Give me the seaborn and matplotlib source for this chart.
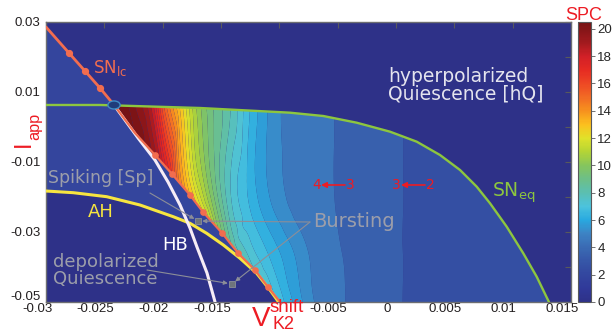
import numpy as np
import matplotlib
matplotlib.use("Agg")
import matplotlib.pyplot as plt
import seaborn as sns
from matplotlib.colors import LinearSegmentedColormap, Normalize
from matplotlib.patches import Polygon, Ellipse
from matplotlib.transforms import ScaledTranslation
from matplotlib.tri import Triangulation, UniformTriRefiner, CubicTriInterpolator
import matplotlib.cm as cm

# ---------------- data ----------------
# bifurcation curves in the (V_K2^shift, I_app) plane
snlc_upper_v = [-0.0300, -0.02803, -0.02666, -0.02537, -0.02417]
snlc_upper_i = [0.02857, 0.02114, 0.01600, 0.01114, 0.00629]
snlc_lower_v = [-0.02417, -0.02237, -0.02066, -0.01920, -0.01766, -0.01654,
                -0.01491, -0.01354, -0.01209, -0.01097, -0.00994]
snlc_lower_i = [0.00629, -0.00171, -0.00800, -0.01343, -0.01943, -0.02429,
                -0.03029, -0.03600, -0.04086, -0.04571, -0.05000]
hb_v = [-0.02417, -0.02211, -0.02066, -0.01954, -0.01851, -0.01766,
        -0.01706, -0.01620, -0.01551]
hb_i = [0.00629, -0.00314, -0.00943, -0.01571, -0.02229, -0.02886,
        -0.03429, -0.04171, -0.05000]
ah_v = [-0.0300, -0.02766, -0.02480, -0.02194, -0.01909, -0.01766,
        -0.01623, -0.01480, -0.01337, -0.01194, -0.01080, -0.01006]
ah_i = [-0.01829, -0.01877, -0.01991, -0.02229, -0.02563, -0.02751,
        -0.03037, -0.03371, -0.03751, -0.04180, -0.04657, -0.05000]
sneq_v = [-0.0300, -0.02537, -0.01680, -0.00909, -0.00623, -0.00337, -0.00051,
          0.00178, 0.00377, 0.00549, 0.00692, 0.00806, 0.00949, 0.01091,
          0.01206, 0.01311]
sneq_i = [0.00629, 0.00629, 0.00543, 0.00409, 0.00314, 0.00123, -0.00134,
          -0.00420, -0.00800, -0.01229, -0.01706, -0.02180, -0.02849, -0.03609,
          -0.04277, -0.05000]

# spikes-per-cycle (SPC) samples
spc_v = [-0.0245, -0.0225, -0.0210, -0.0198, -0.0185, -0.0172, -0.0160,
         -0.0142, -0.0125, -0.0110, -0.0080, -0.0050, 0.0000, 0.0050, 0.0150]
spc_i = [0.008, -0.021, -0.036, -0.050]
spc_row_top = [21.5, 20.0, 18.3, 15.0, 12.7, 10.5, 9.2, 8.0, 6.5, 5.5, 4.4, 3.95, 3.1, 2.4, 2.1]
spc_row_mid = [23.0, 22.0, 21.0, 19.0, 15.0, 12.5, 10.3, 7.6, 6.4, 5.6, 4.6, 3.95, 3.1, 2.4, 2.1]
spc_row_low = [25.0, 24.0, 23.0, 22.0, 20.0, 18.0, 14.0, 9.0, 7.3, 6.5, 5.2, 4.1, 3.1, 2.4, 2.1]
spc_row_bot = [26.0, 25.0, 24.0, 23.0, 22.0, 20.0, 17.0, 12.0, 9.0, 7.6, 5.5, 4.2, 3.1, 2.4, 2.1]

# example points marked by grey squares
example_v = [-0.01697, -0.01406]
example_i = [-0.02686, -0.04486]

# axis ticks
x_ticks = [-0.03, -0.025, -0.02, -0.015, -0.01, -0.005, 0.0, 0.005, 0.01, 0.015]
x_ticklabels = ["-0.03", "-0.025", "-0.02", "-0.015", "", "-0.005", "0", "0.005", "0.01", "0.015"]
y_ticks = [-0.05, -0.04, -0.03, -0.02, -0.01, 0.0, 0.01, 0.02, 0.03]
y_ticklabels = ["-0.05", "", "-0.03", "", "-0.01", "", "0.01", "", "0.03"]
cbar_ticks = [0, 2, 4, 6, 8, 10, 12, 14, 16, 18, 20]

# colormap anchors (value -> colour)
cmap_values = [0, 1, 2, 3, 4, 5, 6, 7, 8, 9, 10, 11, 12, 13, 14, 15, 16, 17, 18, 19, 20.5]
cmap_colors = ["#2e3188", "#30399a", "#33479f", "#3657a8", "#3a6bb4", "#3d83c4",
               "#28a9e0", "#4cc3dd", "#5bbfb1", "#6dbf88", "#86c55c", "#b4d435",
               "#e0e22a", "#fcc01e", "#f7921e", "#f26b24", "#ee4824", "#e62b22",
               "#d22027", "#a31a1e", "#761315"]

# ---------------- style ----------------
sns.set_theme(style="white")
plt.rcParams["font.family"] = ["DejaVu Sans"]
plt.rcParams["axes.unicode_minus"] = False

HQ_COL = "#2e3188"
SP_COL = "#34459d"
ORANGE = "#f26d4f"
GREEN = "#8dc63f"
YELLOW = "#f7e540"
RED = "#ed1c24"
GREY = "#9c9eaa"
TICKFONT = "Liberation Sans"
V_SPAN, I_SPAN = 0.045, 0.08   # axis spans, used to keep the triangulation isotropic

fig = plt.figure(figsize=(6.13, 3.32), dpi=100)
fig.patch.set_facecolor("white")
ax = fig.add_axes([46 / 613, 30 / 332, 525 / 613, 280 / 332])
cax = fig.add_axes([578 / 613, 30 / 332, 13 / 613, 280 / 332])

ax.set_facecolor(HQ_COL)
ax.set_xlim(-0.03, 0.015)
ax.set_ylim(-0.05, 0.03)

norm = Normalize(vmin=0, vmax=20.5)
pos = [(v - cmap_values[0]) / (cmap_values[-1] - cmap_values[0]) for v in cmap_values]
cmap = LinearSegmentedColormap.from_list("spc", list(zip(pos, cmap_colors)))
cmap.set_over(cmap_colors[-1])
cmap.set_under(cmap_colors[0])

# spiking region (left of SNlc, above AH)
sp_verts = (list(zip(snlc_upper_v, snlc_upper_i)) + list(zip(snlc_lower_v[1:], snlc_lower_i[1:]))
            + list(zip(ah_v[::-1], ah_i[::-1])))
ax.add_patch(Polygon(sp_verts, closed=True, facecolor=SP_COL, edgecolor="none", zorder=1))

# bursting region coloured by SPC (library triangulation + smooth refinement)
VV, II = np.meshgrid(spc_v, spc_i)
Z = np.array([spc_row_top, spc_row_mid, spc_row_low, spc_row_bot]).ravel()
tri_n = Triangulation(VV.ravel() / V_SPAN, II.ravel() / I_SPAN)
interp = CubicTriInterpolator(tri_n, Z, kind="geom")
tri_rn, z_f = UniformTriRefiner(tri_n).refine_field(Z, triinterpolator=interp, subdiv=4)
tri_f = Triangulation(tri_rn.x * V_SPAN, tri_rn.y * I_SPAN, tri_rn.triangles)
levels = np.concatenate([np.arange(0, 5, 1.0), np.arange(5, 20.51, 0.5)])
cs = ax.tricontourf(tri_f, z_f, levels=levels, cmap=cmap, norm=norm,
                    extend="both", zorder=1.5, antialiased=True)
burst_verts = list(zip(snlc_lower_v, snlc_lower_i)) + \
    [(v, i) for v, i in zip(sneq_v, sneq_i) if v > snlc_lower_v[0]][::-1]
clip = Polygon(burst_verts, closed=True, transform=ax.transData, facecolor="none", edgecolor="none")
cs.set_clip_path(clip)

# bifurcation curves
sns.lineplot(x=sneq_v, y=sneq_i, ax=ax, color=GREEN, linewidth=1.7, sort=False, estimator=None, zorder=3)
sns.lineplot(x=ah_v, y=ah_i, ax=ax, color=YELLOW, linewidth=2.2, sort=False, estimator=None, zorder=3)
sns.lineplot(x=hb_v, y=hb_i, ax=ax, color="#f6ecf6", linewidth=2.2, sort=False, estimator=None, zorder=3.5)
sns.lineplot(x=snlc_upper_v, y=snlc_upper_i, ax=ax, color=ORANGE, linewidth=2.0, sort=False, estimator=None, zorder=4)
sns.lineplot(x=snlc_lower_v, y=snlc_lower_i, ax=ax, color=ORANGE, linewidth=1.6, sort=False, estimator=None, zorder=4)
ax.plot(snlc_upper_v[1:-1], snlc_upper_i[1:-1], "o", ms=4.2, color=ORANGE, zorder=4.2)
ax.plot(snlc_lower_v[2:-1], snlc_lower_i[2:-1], "o", ms=3.8, color=ORANGE, zorder=4.2)

ax.add_patch(Ellipse((snlc_upper_v[-1], snlc_upper_i[-1]), width=0.00105, height=0.0023,
                     facecolor="#1f3c7a", edgecolor="#3f8cc4", lw=1.0, zorder=6))

# example points and pointer lines
ax.plot(example_v, example_i, "s", ms=4.5, color="#6e747c", mec="#8a9098", mew=0.6, zorder=7)
arrow_kw = dict(arrowstyle="-|>", lw=0.8, color="#8c8e98", mutation_scale=6, shrinkA=0, shrinkB=3)
ax.annotate("", xy=(example_v[0], example_i[0]), xytext=(-0.02109, -0.01886), arrowprops=arrow_kw, zorder=6.5)
ax.annotate("", xy=(example_v[0], example_i[0]), xytext=(-0.00737, -0.02714), arrowprops=arrow_kw, zorder=6.5)
ax.annotate("", xy=(example_v[1], example_i[1]), xytext=(-0.00737, -0.02714), arrowprops=arrow_kw, zorder=6.5)
ax.annotate("", xy=(example_v[1], example_i[1]), xytext=(-0.02134, -0.04086), arrowprops=arrow_kw, zorder=6.5)

# labels inside the plot
ax.text(-0.02597, 0.01543, r"SN$_{\mathregular{lc}}$", color=ORANGE, fontsize=12, va="baseline", zorder=8)
ax.text(-0.00069, 0.01294, "hyperpolarized", color="#e4e4ee", fontsize=13.5, va="baseline", zorder=8)
ax.text(-0.00069, 0.00800, "Quiescence [hQ]", color="#e4e4ee", fontsize=13.5, va="baseline", zorder=8)
ax.text(0.00823, -0.0200, r"SN$_{\mathregular{eq}}$", color=GREEN, fontsize=13.5, va="baseline", zorder=8)
ax.text(-0.00711, -0.02849, "Bursting", color=GREY, fontsize=14, va="baseline", zorder=8)
ax.text(-0.02983, -0.01609, "Spiking [Sp]", color=GREY, fontsize=12.5, va="baseline", zorder=8)
ax.text(-0.02640, -0.02563, "AH", color=YELLOW, fontsize=13, va="baseline", zorder=8)
ax.text(-0.02006, -0.03514, "HB", color="white", fontsize=13, va="baseline", zorder=8)
ax.text(-0.02940, -0.03991, "depolarized", color=GREY, fontsize=13, va="baseline", zorder=8)
ax.text(-0.02940, -0.04494, "Quiescence", color=GREY, fontsize=13, va="baseline", zorder=8)

# SPC transitions
red_arrow = dict(arrowstyle="-|>", lw=1.2, color=RED, mutation_scale=8, shrinkA=0, shrinkB=0)
for a, b, va_, vb_, x0, x1 in [("4", "3", -0.00681, -0.00394, -0.00437, -0.00643),
                                ("3", "2", 0.00004, 0.00296, 0.00249, 0.00043)]:
    ax.text(va_, -0.01657, a, color=RED, fontsize=10, ha="center", va="center", zorder=8)
    ax.text(vb_, -0.01657, b, color=RED, fontsize=10, ha="center", va="center", zorder=8)
    ax.annotate("", xy=(x1, -0.01657), xytext=(x0, -0.01657), arrowprops=red_arrow, zorder=8)

# axes styling
ax.set_xticks(x_ticks)
ax.set_xticklabels(x_ticklabels, fontfamily=TICKFONT, fontsize=9.5)
ax.set_yticks(y_ticks)
ax.set_yticklabels(y_ticklabels, fontfamily=TICKFONT, fontsize=9.5)
ax.tick_params(axis="both", direction="in", length=4, width=0.8, color="#58595b",
               top=True, right=True, labelcolor="#231f20")
ax.tick_params(axis="x", pad=1)
ax.tick_params(axis="y", pad=4)
shift = ScaledTranslation(-9 / 100, 0, fig.dpi_scale_trans)
for lab in ax.get_xticklabels():
    lab.set_transform(lab.get_transform() + shift)
lift = ScaledTranslation(0, 6 / 100, fig.dpi_scale_trans)
ylabs = ax.get_yticklabels()
ylabs[0].set_transform(ylabs[0].get_transform() + lift)
for sp in ax.spines.values():
    sp.set_color("#6d6e71")
    sp.set_linewidth(1.0)
ax.set_xlabel("")
ax.set_ylabel("")

# colour bar
cb = fig.colorbar(cm.ScalarMappable(norm=norm, cmap=cmap), cax=cax, ticks=cbar_ticks)
cb.outline.set_edgecolor("#58595b")
cb.outline.set_linewidth(0.8)
cax.tick_params(labelsize=9.5, length=3, width=0.6, pad=1.5, color="#58595b")
for lab in cax.get_yticklabels():
    lab.set_fontfamily(TICKFONT)
fig.text(584 / 613, 1 - 20 / 332, "SPC", color=RED, fontsize=13, family=TICKFONT,
         ha="center", va="baseline")

# axis titles (V_K2^shift and I_app), composed from separate pieces
fig.text(252 / 613, 1 - 326 / 332, "V", color=RED, fontsize=20, family=TICKFONT,
         ha="left", va="baseline")
fig.text(270 / 613, 1 - 312 / 332, "shift", color=RED, fontsize=13.5, family=TICKFONT,
         ha="left", va="baseline")
fig.text(272 / 613, 1 - 329 / 332, "K2", color=RED, fontsize=13, family=TICKFONT,
         ha="left", va="baseline")
fig.text(23.5 / 613, 1 - 144 / 332, "I", color=RED, fontsize=17, family=TICKFONT,
         rotation=90, ha="center", va="center")
fig.text(35 / 613, 1 - 126.5 / 332, "app", color=RED, fontsize=11.7, family=TICKFONT,
         rotation=90, ha="center", va="center")

fig.savefig("out.png", dpi=100)
